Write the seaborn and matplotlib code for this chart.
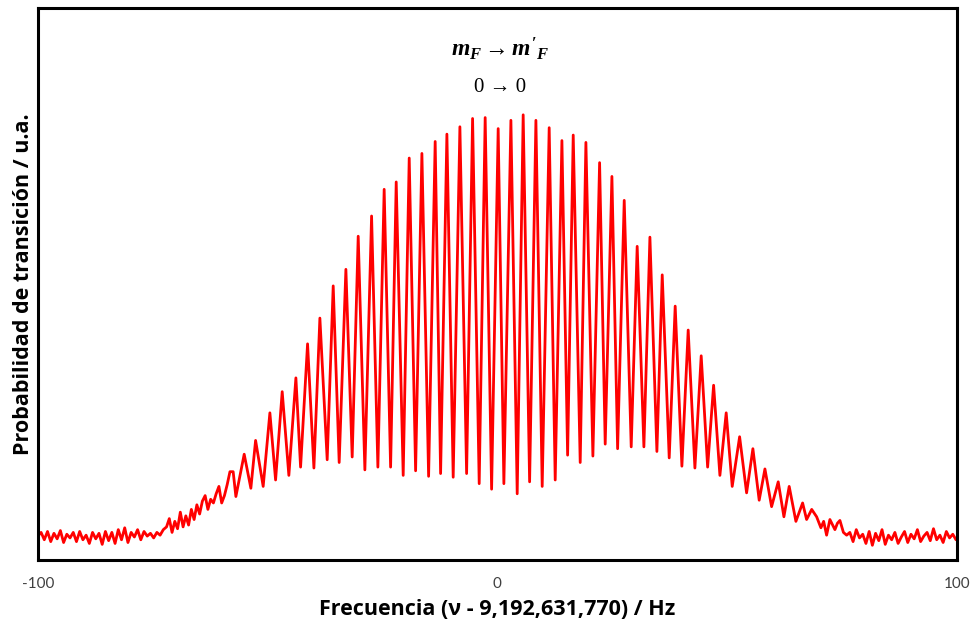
#!/usr/bin/env python3
"""Ramsey fringes of the Cs clock transition (mF 0 -> 0)."""
import matplotlib
matplotlib.use("Agg")
import matplotlib.pyplot as plt
import numpy as np
import pandas as pd
import seaborn as sns

sns.set_style("white")
plt.rcParams["text.color"] = "black"
plt.rcParams["axes.labelcolor"] = "black"
plt.rcParams["mathtext.fontset"] = "custom"
plt.rcParams["mathtext.it"] = "Liberation Serif:italic:bold"
plt.rcParams["mathtext.rm"] = "Liberation Serif:bold"

# --- data (Hz offset, transition probability a.u.) ---
tail_left_hz = [-100.0, -99.3, -98.6, -97.9, -97.2, -96.5, -95.8, -95.1, -94.4, -93.7,
                -93.0, -92.3, -91.6, -90.9, -90.2, -89.5, -88.8, -88.1, -87.4, -86.7,
                -86.0, -85.3, -84.6, -83.9, -83.2, -82.5, -81.8, -81.1, -80.4, -79.7,
                -79.0, -78.3, -77.6, -76.9, -76.2, -75.5, -74.8, -74.1, -73.4, -72.7]
tail_left_prob = [0.26, 0.30, 0.22, 0.31, 0.20, 0.29, 0.23, 0.32, 0.19, 0.28,
                  0.24, 0.30, 0.20, 0.31, 0.22, 0.27, 0.18, 0.30, 0.23, 0.29,
                  0.17, 0.31, 0.21, 0.30, 0.18, 0.33, 0.22, 0.35, 0.19, 0.30,
                  0.25, 0.33, 0.22, 0.31, 0.26, 0.29, 0.24, 0.30, 0.27, 0.33]

rise_hz = [-72.0, -71.4, -70.8, -70.2, -69.6, -69.0, -68.4, -67.8, -67.2, -66.6,
           -66.0, -65.4, -64.8, -64.2, -63.6, -63.0, -62.4, -61.8, -61.2, -60.6,
           -60.0, -59.4, -58.8, -58.2]
rise_prob = [0.36, 0.45, 0.30, 0.42, 0.34, 0.52, 0.36, 0.48, 0.38, 0.55,
             0.44, 0.60, 0.50, 0.64, 0.70, 0.55, 0.66, 0.62, 0.72, 0.80,
             0.62, 0.70, 0.82, 0.96]

# alternating fringe maxima / minima
fringe_hz = [-57.50, -56.91, -55.10, -53.65, -52.62, -50.97, -49.51, -48.27, -46.83, -45.38,
             -43.85, -42.83, -41.31, -39.93, -38.63, -37.04, -35.73, -34.43, -32.97, -31.60,
             -30.29, -28.84, -27.38, -26.01, -24.64, -23.24, -22.02, -20.50, -19.19, -17.80,
             -16.43, -14.97, -13.54, -12.36, -10.99, -9.62, -8.16, -6.70, -5.40, -3.96,
             -2.66, -1.26, 0.17, 1.41, 2.94, 4.31, 5.61, 7.01, 8.38, 9.75,
             11.27, 12.58, 14.04, 15.28, 16.50, 18.02, 19.26, 20.78, 22.24, 23.46,
             24.92, 26.16, 27.60, 29.12, 30.42, 31.88, 33.19, 34.71, 35.87, 37.39,
             38.69, 40.15, 41.52, 42.98, 44.35, 45.75, 47.05, 48.42, 49.79, 51.10,
             52.71, 54.23, 55.60, 56.97, 58.22, 59.67, 61.11, 62.35, 63.50, 64.96,
             66.42, 67.29]
fringe_prob = [0.96, 0.69, 1.15, 0.78, 1.30, 0.80, 1.60, 0.87, 1.83, 0.92,
               1.98, 1.01, 2.35, 1.00, 2.63, 1.09, 2.98, 1.06, 3.16, 1.12,
               3.52, 0.98, 3.74, 1.01, 4.03, 1.01, 4.11, 0.92, 4.37, 0.97,
               4.42, 0.91, 4.55, 0.94, 4.63, 0.90, 4.71, 0.94, 4.80, 0.83,
               4.81, 0.77, 4.69, 0.83, 4.78, 0.72, 4.84, 0.85, 4.78, 0.80,
               4.70, 0.87, 4.56, 1.14, 4.62, 1.06, 4.54, 1.13, 4.32, 1.26,
               4.17, 1.21, 3.91, 1.23, 3.41, 1.23, 3.51, 1.18, 3.10, 1.11,
               2.76, 1.02, 2.50, 1.00, 2.22, 1.01, 1.90, 0.92, 1.60, 0.80,
               1.34, 0.73, 1.21, 0.65, 0.99, 0.58, 0.85, 0.47, 0.80, 0.42,
               0.62, 0.44]

tail_right_hz = [68.4, 69.47, 70.40, 71.0, 71.64, 72.36, 73.45, 74.0, 74.54, 75.3, 76.00,
                 76.7, 77.4, 78.1, 78.8, 79.5, 80.2, 80.9, 81.6, 82.3, 83.0,
                 83.7, 84.4, 85.1, 85.8, 86.5, 87.2, 87.9, 88.6, 89.3, 90.0,
                 90.7, 91.4, 92.1, 92.8, 93.5, 94.2, 94.9, 95.6, 96.3, 97.0,
                 97.7, 98.4, 99.1, 99.8]
tail_right_prob = [0.55, 0.47, 0.35, 0.42, 0.27, 0.44, 0.33, 0.40, 0.43, 0.30, 0.27,
                   0.30, 0.20, 0.33, 0.24, 0.28, 0.18, 0.31, 0.16, 0.29, 0.21,
                   0.33, 0.17, 0.27, 0.22, 0.30, 0.18, 0.25, 0.31, 0.19, 0.28,
                   0.23, 0.33, 0.20, 0.26, 0.30, 0.21, 0.34, 0.22, 0.27, 0.19,
                   0.31, 0.24, 0.28, 0.22]

x_ticks = [-100, 0, 100]
x_tick_labels = ["-100", "0", "100"]
y_ticks = [1, 2, 3, 4, 5]

df = pd.DataFrame({
    "hz": tail_left_hz + rise_hz + fringe_hz + tail_right_hz,
    "prob": tail_left_prob + rise_prob + fringe_prob + tail_right_prob,
})

fig = plt.figure(figsize=(9.71, 6.25), dpi=100)
ax = fig.add_axes([0.039, 0.104, 0.9465, 0.883])

sns.lineplot(data=df, x="hz", y="prob", ax=ax, color="#ff0000", linewidth=2.0,
             estimator=None, sort=False)
ax.lines[0].set_solid_joinstyle("round")

ax.set_xlim(-100, 100)
ax.set_ylim(0, 6)
ax.set_xticks(x_ticks)
ax.set_xticklabels(x_tick_labels, family="Lato", fontsize=11, color="#404040")
ax.set_yticks(y_ticks)
ax.set_yticklabels([])
ax.tick_params(axis="both", direction="in", length=6, width=1.3, color="black")
ax.tick_params(axis="x", pad=12)
for side in ["left", "right", "top", "bottom"]:
    ax.spines[side].set_linewidth(2.2)
    ax.spines[side].set_color("black")

ax.set_xlabel("Frecuencia (\u03bd - 9,192,631,770) / Hz", family="Open Sans",
              fontweight="bold", fontsize=15.5, labelpad=6, color="black")
ax.set_ylabel("Probabilidad de transición / u.a.", family="Open Sans",
              fontweight="bold", fontsize=15.5, labelpad=-1, color="black")

ax.text(0.6, 5.56, r"$m_F \rightarrow m'_F$", ha="center", va="center", fontsize=17,
        color="black")
ax.text(0.6, 5.14, "0 \u2192 0", ha="center", va="center", fontsize=15,
        family=["Liberation Serif", "DejaVu Serif"], color="black")

fig.savefig("out.png", dpi=100)
plt.close(fig)
